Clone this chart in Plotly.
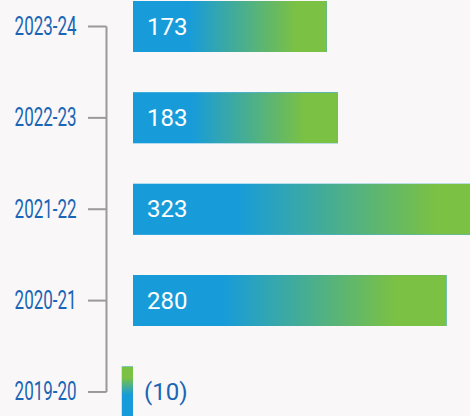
import base64
import plotly.graph_objects as go

# ---- data ----
years = ["2023-24", "2022-23", "2021-22", "2020-21", "2019-20"]
values = [173, 183, 323, 280, -10]

# ---- style ----
BG = "#f9f7f8"
BLUE = "#189cd9"
GREEN = "#7bc143"
LABEL_BLUE = "#1a65b5"
BRACKET = "#9a9a9a"
BAR_H = 0.558
W, H = 470, 416
PX_PER_UNIT = 1.12
ZERO_PX = 133
LABEL_W = 62  # condensed width of the year labels


def grad_uri(vertical=False):
    if vertical:
        g = ("<linearGradient id='g' x1='0' y1='1' x2='0' y2='0'>"
             f"<stop offset='0.45' stop-color='{BLUE}'/>"
             f"<stop offset='0.78' stop-color='{GREEN}'/></linearGradient>")
    else:
        g = ("<linearGradient id='g' x1='0' y1='0' x2='1' y2='0'>"
             f"<stop offset='0.29' stop-color='{BLUE}'/>"
             f"<stop offset='0.84' stop-color='{GREEN}'/></linearGradient>")
    svg = ("<svg xmlns='http://www.w3.org/2000/svg' width='100' height='100' "
           "viewBox='0 0 100 100' preserveAspectRatio='none'>"
           f"<defs>{g}</defs><rect x='0' y='0' width='100' height='100' fill='url(#g)'/></svg>")
    return "data:image/svg+xml;base64," + base64.b64encode(svg.encode()).decode()


idx = list(range(len(years)))

fig = go.Figure()
fig.add_trace(go.Bar(
    x=values, y=idx, orientation="h", width=BAR_H,
    marker=dict(color=BLUE, line=dict(width=0)),
    hoverinfo="skip", showlegend=False,
))

images = []
annotations = []
shapes = []
for i, (yr, v) in enumerate(zip(years, values)):
    images.append(dict(
        source=grad_uri(vertical=v < 0), xref="x", yref="y",
        x=min(0, v), y=i, sizex=abs(v), sizey=BAR_H,
        xanchor="left", yanchor="middle", sizing="stretch", layer="above",
    ))
    annotations.append(dict(
        xref="x", yref="y", x=0, y=i, xshift=12 if v >= 0 else 9,
        xanchor="left", yanchor="middle",
        text=str(v) if v >= 0 else f"({abs(v)})", showarrow=False,
        font=dict(family="Roboto, sans-serif", size=24,
                  color="white" if v >= 0 else LABEL_BLUE),
    ))
    annotations.append(dict(
        xref="paper", yref="y", x=45.5 / W, y=i, xanchor="center", yanchor="middle",
        text=yr, showarrow=False,
        font=dict(family="Roboto, sans-serif", size=25, color=LABEL_BLUE),
    ))
    shapes.append(dict(type="line", xref="paper", yref="y",
                       x0=88 / W, x1=106.5 / W, y0=i, y1=i,
                       line=dict(color=BRACKET, width=2)))

shapes.append(dict(type="line", xref="paper", yref="y",
                   x0=106.5 / W, x1=106.5 / W, y0=0, y1=len(years) - 1,
                   line=dict(color=BRACKET, width=2)))

fig.update_layout(
    width=W, height=H,
    margin=dict(l=0, r=0, t=0, b=0),
    paper_bgcolor=BG, plot_bgcolor=BG,
    xaxis=dict(range=[-ZERO_PX / PX_PER_UNIT, (W - ZERO_PX) / PX_PER_UNIT],
               visible=False, fixedrange=True),
    yaxis=dict(range=[4.263, -0.29], visible=False, fixedrange=True),
    images=images, annotations=annotations, shapes=shapes,
    showlegend=False,
)

post = """
document.body.style.margin='0';
document.body.style.overflow='hidden';
document.body.style.background='%s';
var gd = document.getElementById('{plot_id}');
function condense(){
  var labels = %s;
  document.querySelectorAll('text.annotation-text').forEach(function(t){
    if(labels.indexOf(t.textContent) >= 0){
      t.setAttribute('textLength', '%d');
      t.setAttribute('lengthAdjust', 'spacingAndGlyphs');
    }
  });
}
condense();
setTimeout(condense, 50);
setTimeout(condense, 300);
if(gd && gd.on){ gd.on('plotly_afterplot', condense); }
""" % (BG, str(years), LABEL_W)

fig.write_html("out.html", config={"displayModeBar": False}, post_script=post)
